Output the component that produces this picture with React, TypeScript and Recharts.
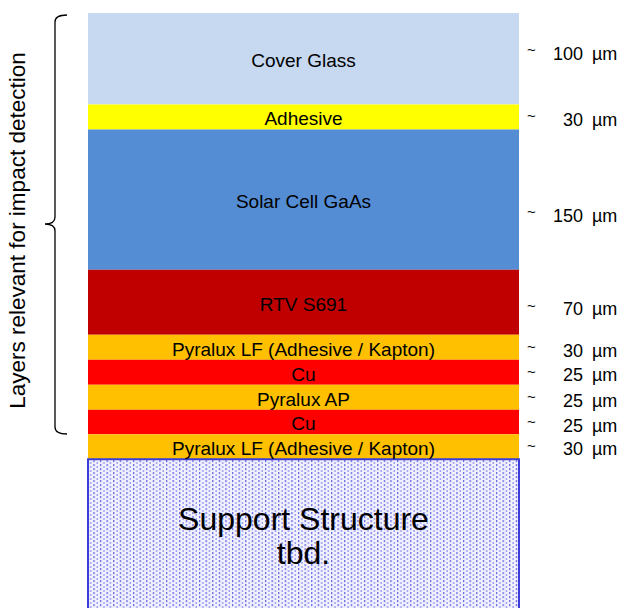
import { BarChart, Bar, XAxis, YAxis, LabelList } from 'recharts';

// Layer stack, top to bottom. Drawn heights are what the picture shows
// (the drawing is not to scale), thickness labels are the nominal values.
const layerNames = [
  'Cover Glass',
  'Adhesive',
  'Solar Cell GaAs',
  'RTV S691',
  'Pyralux LF (Adhesive / Kapton)',
  'Cu',
  'Pyralux AP',
  'Cu',
  'Pyralux LF (Adhesive / Kapton)',
  'Support Structure|tbd.',
];
const drawnHeights = [91.5, 25, 140.5, 65, 25, 25, 25, 24.5, 25, 161];
const thicknessUm = ['100', '30', '150', '70', '30', '25', '25', '25', '30', ''];
const layerColors = [
  '#c6d9f1',
  '#ffff00',
  '#548dd4',
  '#c00000',
  '#ffc000',
  '#ff0000',
  '#ffc000',
  '#ff0000',
  '#ffc000',
  'url(#supportDots)',
];

// small vertical nudges so the side labels sit where the slide put them
const RIGHT_DY = [-5, 3, 16, 7, 3.5, 3, 3.5, 4, 2.5, 0];

const FONT = '"Liberation Sans", Arial, sans-serif';
const WIDTH = 619;
const HEIGHT = 620;

const row: Record<string, number | string> = { name: 'stack' };
layerNames.forEach((_, i) => {
  row[`l${i}`] = drawnHeights[i];
});
const chartData = [row];
const total = drawnHeights.reduce((s, v) => s + v, 0);

const renderLabel = (props: any, i: number) => {
  const x = Number(props.x);
  const y = Number(props.y);
  const w = Number(props.width);
  const h = Number(props.height);
  const top = Math.min(y, y + h);
  const cx = x + w / 2;
  const cy = top + Math.abs(h) / 2;
  const lines = layerNames[i].split('|');

  if (lines.length > 1) {
    return (
      <g>
        <text x={cx} y={top + 60} textAnchor="middle" dominantBaseline="central" fontSize={32} fill="#000" fontFamily={FONT}>
          {lines[0]}
        </text>
        <text x={cx} y={top + 94} textAnchor="middle" dominantBaseline="central" fontSize={32} fill="#000" fontFamily={FONT}>
          {lines[1]}
        </text>
      </g>
    );
  }

  const ry = cy + RIGHT_DY[i];
  return (
    <g>
      <text x={cx} y={cy + 2} textAnchor="middle" dominantBaseline="central" fontSize={19} fill="#000" fontFamily={FONT}>
        {lines[0]}
      </text>
      <text x={x + w + 8} y={ry - 4} dominantBaseline="central" fontSize={15} fill="#000" fontFamily={FONT}>
        ~
      </text>
      <text x={x + w + 64} y={ry} textAnchor="end" dominantBaseline="central" fontSize={18} fill="#000" fontFamily={FONT}>
        {thicknessUm[i]}
      </text>
      <text x={x + w + 73} y={ry} dominantBaseline="central" fontSize={18} fill="#000" fontFamily={FONT}>
        µm
      </text>
    </g>
  );
};

export default function App() {
  return (
    <div style={{ position: 'relative', width: WIDTH, height: 608, overflow: 'hidden', background: '#fff' }}>
      <style>{`
        body { margin: 0; overflow: hidden; }
      `}</style>
      <BarChart
        width={WIDTH}
        height={HEIGHT}
        data={chartData}
        margin={{ top: 13, right: 100, bottom: 0, left: 88 }}
        barCategoryGap={0}
        barGap={0}
      >
        <defs>
          <pattern id="supportDots" width="6.6" height="4" patternUnits="userSpaceOnUse">
            <rect width="6.6" height="4" fill="#f2f2fe" />
            <rect x="1" y="0" width="1.2" height="2.2" fill="#5c5ce2" />
            <rect x="4.3" y="2" width="1.2" height="2.2" fill="#8a8aec" />
          </pattern>
        </defs>
        <XAxis dataKey="name" hide />
        <YAxis hide reversed domain={[0, total]} allowDataOverflow />
        {layerNames.map((n, i) => (
          <Bar
            key={`${n}-${i}`}
            dataKey={`l${i}`}
            stackId="layers"
            fill={layerColors[i]}
            stroke={i === layerNames.length - 1 ? '#3c3cd8' : 'none'}
            strokeWidth={2}
            isAnimationActive={false}
          >
            <LabelList dataKey={`l${i}`} content={(p: any) => renderLabel(p, i)} />
          </Bar>
        ))}
      </BarChart>

      <svg
        width={WIDTH}
        height={608}
        style={{ position: 'absolute', left: 0, top: 0, pointerEvents: 'none' }}
      >
        <path
          d="M67,15 Q55,15 55,22 L55,217 Q55,224 45,224 Q55,224 55,231 L55,427 Q55,434 67,434"
          fill="none"
          stroke="#000"
          strokeWidth={1.3}
        />
        <text
          transform="translate(25,230.5) rotate(-90)"
          textAnchor="middle"
          fontSize={22.5}
          fill="#000"
          fontFamily={FONT}
        >
          Layers relevant for impact detection
        </text>
      </svg>
    </div>
  );
}
